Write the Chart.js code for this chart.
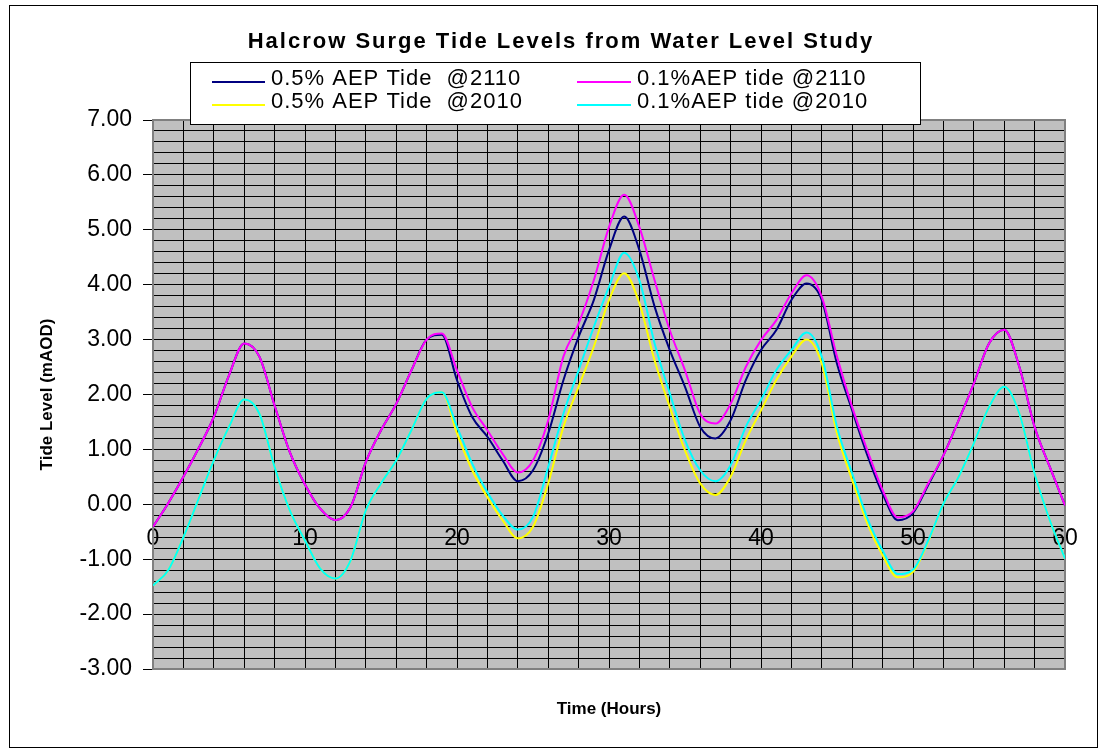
<!DOCTYPE html>
<html>
<head>
<meta charset="utf-8">
<script src="https://cdn.jsdelivr.net/npm/chart.js@4/dist/chart.umd.min.js"></script>
<style>
  html, body { margin: 0; padding: 0; background: #ffffff; }
  canvas { display: block; }
</style>
</head>
<body>
<canvas id="c" width="1102" height="751"></canvas>
<script>
// ---------------- data ----------------
const hours = [0,1,2,3,4,5,6,7,8,9,10,11,12,13,14,15,16,17,18,19,20,21,22,23,24,25,26,27,28,29,30,
               31,32,33,34,35,36,37,38,39,40,41,42,43,44,45,46,47,48,49,50,51,52,53,54,55,56,57,58,59,60];

const tide05_2110 = [-0.41,0.02,0.50,1.02,1.59,2.35,2.93,2.69,1.80,0.95,0.36,-0.08,-0.29,-0.05,0.77,1.35,1.83,2.44,3.00,3.09,
                     2.26,1.59,1.23,0.80,0.42,0.62,1.29,2.26,3.05,3.72,4.63,5.24,4.63,3.60,2.81,2.14,1.41,1.20,1.53,2.26,
                     2.81,3.17,3.72,4.02,3.72,2.56,1.71,0.89,0.19,-0.29,-0.16,0.35,0.89,1.53,2.20,2.93,3.18,2.50,1.41,0.68,-0.02];

const tide01_2110 = [-0.41,0.02,0.50,1.02,1.59,2.35,2.93,2.69,1.80,0.95,0.36,-0.08,-0.29,-0.05,0.77,1.35,1.83,2.44,3.00,3.11,
                     2.44,1.77,1.35,0.92,0.58,0.80,1.53,2.69,3.29,4.08,5.05,5.64,5.05,4.08,3.17,2.44,1.65,1.47,1.83,2.50,
                     2.99,3.35,3.84,4.17,3.78,2.69,1.77,0.98,0.26,-0.24,-0.13,0.38,0.89,1.53,2.20,2.93,3.18,2.50,1.41,0.68,-0.02];

const tide05_2010 = [-1.48,-1.20,-0.60,0.10,0.80,1.41,1.91,1.65,0.68,-0.11,-0.66,-1.17,-1.35,-1.02,-0.11,0.38,0.80,1.35,1.92,2.04,
                     1.29,0.62,0.13,-0.29,-0.62,-0.41,0.38,1.41,2.14,2.87,3.72,4.21,3.66,2.62,1.77,0.98,0.38,0.17,0.50,1.17,
                     1.71,2.26,2.69,3.00,2.56,1.29,0.44,-0.35,-0.93,-1.33,-1.23,-0.68,0.01,0.50,1.11,1.77,2.14,1.65,0.56,-0.29,-0.99];

const tide01_2010 = [-1.48,-1.20,-0.60,0.10,0.80,1.41,1.91,1.65,0.68,-0.11,-0.66,-1.17,-1.35,-1.02,-0.11,0.38,0.80,1.35,1.92,2.04,
                     1.41,0.74,0.22,-0.20,-0.46,-0.23,0.68,1.65,2.44,3.23,3.96,4.58,4.08,2.93,2.02,1.17,0.62,0.42,0.71,1.41,
                     1.90,2.44,2.81,3.13,2.69,1.41,0.56,-0.26,-0.84,-1.27,-1.19,-0.66,0.01,0.50,1.11,1.77,2.14,1.65,0.56,-0.29,-0.99];

const seriesLabels = ['0.5% AEP Tide  @2110', '0.1%AEP tide @2110', '0.5% AEP Tide  @2010', '0.1%AEP tide @2010'];
const xTickLabels = [0, 10, 20, 30, 40, 50, 60];
const yTickLabels = [-3, -2, -1, 0, 1, 2, 3, 4, 5, 6, 7];

// ---------------- styling ----------------
Chart.defaults.font.family = "'Liberation Sans', Arial, sans-serif";
Chart.defaults.color = '#000000';

const seriesColors = ['#000080', '#FF00FF', '#FFFF00', '#00FFFF'];
const drawOrder = [4, 3, 2, 1];
const seriesValues = [tide05_2110, tide01_2110, tide05_2010, tide01_2010];

const datasets = seriesValues.map((vals, i) => ({
  label: seriesLabels[i],
  data: hours.map((h, j) => ({ x: h, y: vals[j] })),
  borderColor: seriesColors[i],
  backgroundColor: seriesColors[i],
  borderWidth: 2,
  pointRadius: 0,
  pointHoverRadius: 0,
  fill: false,
  cubicInterpolationMode: 'monotone',
  order: drawOrder[i],
  xAxisID: 'x',
  yAxisID: 'y'
}));

const isMajor = (list, v) => list.some(t => Math.abs(t - v) < 1e-6);

const framePlugin = {
  id: 'frame',
  beforeDraw(chart) {
    const { ctx, chartArea: a } = chart;
    ctx.save();
    ctx.fillStyle = '#ffffff';
    ctx.fillRect(0, 0, chart.width, chart.height);
    ctx.strokeStyle = '#000000';
    ctx.lineWidth = 1;
    ctx.strokeRect(9.5, 5.5, 1088, 742);
    ctx.fillStyle = '#C0C0C0';
    ctx.fillRect(a.left, a.top, a.right - a.left, a.bottom - a.top);
    ctx.restore();
    const tb = chart.titleBlock;
    if (tb && !tb.__spaced) {
      const orig = tb.draw;
      tb.draw = function (...args) {
        const c = this.ctx;
        c.save();
        try { c.letterSpacing = '2px'; } catch (e) {}
        orig.apply(this, args);
        c.restore();
      };
      tb.__spaced = true;
    }
  },
  beforeDatasetsDraw(chart) {
    const { ctx, chartArea: a } = chart;
    ctx.save();
    ctx.strokeStyle = '#808080';
    ctx.lineWidth = 2;
    ctx.strokeRect(a.left, a.top, a.right - a.left, a.bottom - a.top);
    ctx.restore();
  },
  afterDraw(chart) {
    const ctx = chart.ctx;
    ctx.save();
    ctx.fillStyle = '#ffffff';
    ctx.fillRect(190, 62, 730, 62);
    ctx.strokeStyle = '#000000';
    ctx.lineWidth = 1;
    ctx.strokeRect(190.5, 62.5, 730, 62);
    ctx.font = "22px 'Liberation Sans', Arial, sans-serif";
    try { ctx.letterSpacing = '1px'; } catch (e) {}
    ctx.textBaseline = 'middle';
    ctx.textAlign = 'left';
    const rowsY = [79, 102];
    const cols = [[212, 265, 271], [577, 631, 637]];
    chart.data.datasets.forEach((ds, i) => {
      const col = cols[i % 2];
      const y = rowsY[Math.floor(i / 2)];
      ctx.strokeStyle = ds.borderColor;
      ctx.lineWidth = 2;
      ctx.beginPath();
      ctx.moveTo(col[0], y + 3);
      ctx.lineTo(col[1], y + 3);
      ctx.stroke();
      ctx.fillStyle = '#000000';
      ctx.fillText(ds.label, col[2], y);
    });
    ctx.restore();
  }
};

new Chart(document.getElementById('c'), {
  type: 'line',
  data: { datasets },
  plugins: [framePlugin],
  options: {
    responsive: false,
    animation: false,
    devicePixelRatio: 1,
    layout: { padding: { left: 20, right: 0, top: 0, bottom: 0 } },
    plugins: {
      legend: { display: false },
      tooltip: { enabled: false },
      title: {
        display: true,
        text: 'Halcrow Surge Tide Levels from Water Level Study',
        font: { size: 22, weight: 'bold' },
        color: '#000000',
        padding: { top: 29, bottom: 64.6 }
      }
    },
    scales: {
      x: {
        type: 'linear',
        axis: 'x',
        min: 0,
        max: 60,
        position: { y: 0 },
        ticks: {
          stepSize: 2,
          autoSkip: false,
          maxRotation: 0,
          padding: 12,
          font: { size: 23 },
          callback: v => isMajor(xTickLabels, v) ? String(Math.round(v)) : ''
        },
        grid: {
          color: '#000000',
          lineWidth: 1,
          tickLength: 9,
          tickColor: c => (c.tick && isMajor(xTickLabels, c.tick.value)) ? '#000000' : 'rgba(0,0,0,0)'
        },
        border: { display: true, color: '#000000', width: 1 }
      },
      xb: {
        type: 'linear',
        axis: 'x',
        position: 'bottom',
        min: 0,
        max: 60,
        afterFit: s => { s.height = 82; },
        grid: { display: false, drawTicks: false },
        border: { display: false },
        ticks: { display: false },
        title: {
          display: true,
          text: 'Time (Hours)',
          font: { size: 17, weight: 'bold' },
          padding: { top: 0, bottom: 31 }
        }
      },
      y: {
        type: 'linear',
        axis: 'y',
        position: 'left',
        min: -3,
        max: 7,
        afterFit: s => { s.width = 133; },
        ticks: {
          stepSize: 0.2,
          autoSkip: false,
          padding: 11,
          font: { size: 23 },
          callback: v => isMajor(yTickLabels, v) ? Number(v).toFixed(2) : ''
        },
        grid: {
          color: '#000000',
          lineWidth: 1,
          tickLength: 10,
          tickColor: c => (c.tick && isMajor(yTickLabels, c.tick.value)) ? '#000000' : 'rgba(0,0,0,0)'
        },
        border: { display: false },
        title: {
          display: true,
          text: 'Tide Level (mAOD)',
          font: { size: 17, weight: 'bold' },
          padding: { top: 17, bottom: 0 }
        }
      },
      yr: {
        type: 'linear',
        axis: 'y',
        position: 'right',
        afterFit: s => { s.width = 37; },
        grid: { display: false, drawTicks: false },
        border: { display: false },
        ticks: { display: false }
      }
    }
  }
});
</script>
</body>
</html>
